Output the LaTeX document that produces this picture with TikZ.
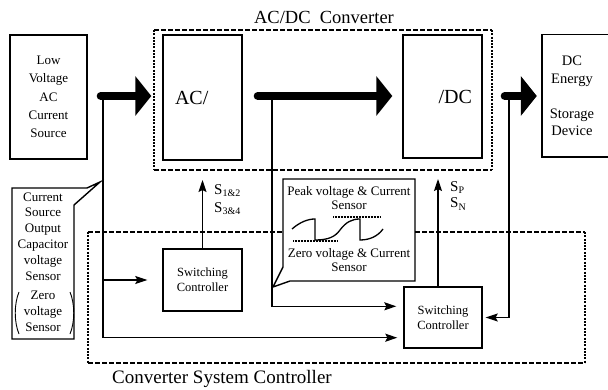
\documentclass[tikz,border=0pt]{standalone}
\usepackage{fontspec}
\setmainfont{Liberation Serif}
\usetikzlibrary{arrows.meta}
\newcommand{\fsz}[2]{\fontsize{#1}{#2}\selectfont}
\newcommand{\lowsub}[1]{\raisebox{-2.5pt}{\fontsize{10}{10}\selectfont #1}}
\begin{document}
\begin{tikzpicture}[x=1pt,y=-1pt,
  boxline/.style={line width=1.4pt},
  box/.style={draw, boxline, inner sep=0pt, align=center},
  wire/.style={line width=1.3pt},
  tip/.style={-{Stealth[length=12pt,width=8pt,inset=2pt]}},
  bigarrow/.style={line width=8pt, line cap=round, -{Triangle[length=16pt,width=39pt]}},
  dashH/.style={line width=2.2pt, dash pattern=on 5pt off 2pt},
  dashV/.style={line width=2.6pt, dash pattern=on 2pt off 1.3pt},
]
\clip (0,0) rectangle (608,390);
\fill[white] (0,0) rectangle (608,390);

% main boxes
\node[box, minimum width=77pt, minimum height=124pt, font=\fsz{13}{18.3}] (src) at (48.5,97)
  {Low\\Voltage\\AC\\Current\\Source};
\node[box, minimum height=125pt, text width=55pt, inner xsep=12pt, align=left, font=\fsz{20}{22}] (acbox) at (202.5,97.5) {AC/};
\node[box, minimum height=123pt, text width=59pt, inner xsep=10pt, align=right, font=\fsz{20}{22}] (dcbox) at (442.5,96.5) {/DC};
\node[inner sep=0pt, minimum width=60pt, minimum height=122pt, align=center, font=\fsz{14.5}{17.5}] (store) at (572,96)
  {DC\\Energy\\[17.5pt]Storage\\Device};
\draw[boxline] ([xshift=50pt]store.north east) -- (store.north west) -- (store.south west) -- ([xshift=50pt]store.south east);

% AC/DC converter boundary
\node[font=\fsz{18.5}{20}] (title) at (324,17) {AC/DC~ Converter};
\draw[dashH] (154,30) -- (492,30);
\draw[dashH] (154,170) -- (492,170);
\draw[dashV] (154,30) -- (154,170);
\draw[dashV] (492,30) -- (492,170);

% switching controllers
\node[box, minimum width=79pt, minimum height=62pt, font=\fsz{12.5}{15}] (sw1) at (202.5,280) {Switching\\Controller};
\node[box, minimum width=78pt, minimum height=61pt, font=\fsz{12.5}{15}] (sw2) at (443,317.5) {Switching\\Controller};

% sensor callout
\node[inner sep=0pt, minimum width=132pt, minimum height=102pt, align=center, font=\fsz{13}{14}] (sens) at (349,229)
  {Peak voltage \& Current\\Sensor\\[34pt]Zero voltage \& Current\\Sensor};
\coordinate (ptrB) at (273,287);
\draw[boxline, line join=miter] (283,179) -- (415,179) -- (415,281) -- (290,281) -- (ptrB) -- (283,267) -- cycle;
% waveform
\draw[line width=1.3pt] (292,229) .. controls (300,222) and (308,219) .. (315,219) -- (315,240)
  .. controls (328,240) and (335,237) .. (340,230) .. controls (346,222) and (352,219) .. (360,219) -- (360,240)
  .. controls (370,240) and (378,236) .. (383,229);
\draw[line width=1.1pt, dash pattern=on 1pt off 0.5pt] (293,241) -- (338,241);
\draw[line width=1.1pt, dash pattern=on 1pt off 0.5pt] (333,217) -- (380,217);

% controller boundary
\draw[dashH] (88,232) -- (283,232);
\draw[dashH] (415,232) -- (585,232);
\draw[dashH] (88,363) -- (585,363);
\draw[dashV] (88,232) -- (88,363);
\draw[dashV] (585,232) -- (585,363);
\node[font=\fsz{19}{21}] (ctltitle) at (222,379) {Converter System Controller};

% left callout
\node[inner sep=0pt, align=center, minimum width=62pt, minimum height=151pt, font=\fsz{13}{15.8}] (capsens) at (43,262)
  {Current\\Source\\Output\\Capacitor\\voltage\\Sensor\\[4pt]Zero\\voltage\\Sensor};
\coordinate (ptrA) at (100,182);
\draw[boxline, line join=miter] (12,339) -- (12,188) -- (87,188) -- (ptrA) -- (74,205) -- (74,339) -- cycle;
\draw[line width=0.9pt] (19,292) .. controls (14,304) and (14,322) .. (19,334);
\draw[line width=0.9pt] (70,292) .. controls (75,304) and (75,322) .. (70,334);

% power flow
\coordinate (b1) at (103,96);
\coordinate (b2) at (272,96);
\coordinate (b3) at (509,96);
\draw[bigarrow, shorten <=13pt, shorten >=11pt] (src.east |- b1) -- (acbox.west |- b1);
\draw[bigarrow, shorten <=15pt, shorten >=10pt] (acbox.east |- b2) -- (dcbox.west |- b2);
\draw[bigarrow, shorten <=22pt, shorten >=5pt] (dcbox.east |- b3) -- (store.west |- b3);

% sensing wires
\draw[wire, tip, shorten >=6pt] (b1) |- ([yshift=11pt]sw2.south west);
\draw[wire, tip, shorten >=15pt] (b1 |- sw1.west) -- (sw1.west);
\draw[wire, tip, shorten >=7pt] (b2) |- ([yshift=-20pt]sw2.north west);
\draw[wire, tip, shorten >=3pt] (b3) |- (sw2.east);

% gate signals
\coordinate (s1tip) at (202.5,180);
\coordinate (s2tip) at (438,179);
\draw[wire, tip] (sw1.north) -- (s1tip);
\draw[wire, tip] ([xshift=-5pt]sw2.north) -- (s2tip);
\node[anchor=north west, inner sep=0pt, align=left, font=\fsz{15}{18}] (s12) at (214,184) {S\lowsub{1\&2}\\S\lowsub{3\&4}};
\node[anchor=north west, inner sep=0pt, align=left, font=\fsz{15}{16.5}] (spn) at (450,181) {S\lowsub{P}\\S\lowsub{N}};
\end{tikzpicture}
\end{document}
